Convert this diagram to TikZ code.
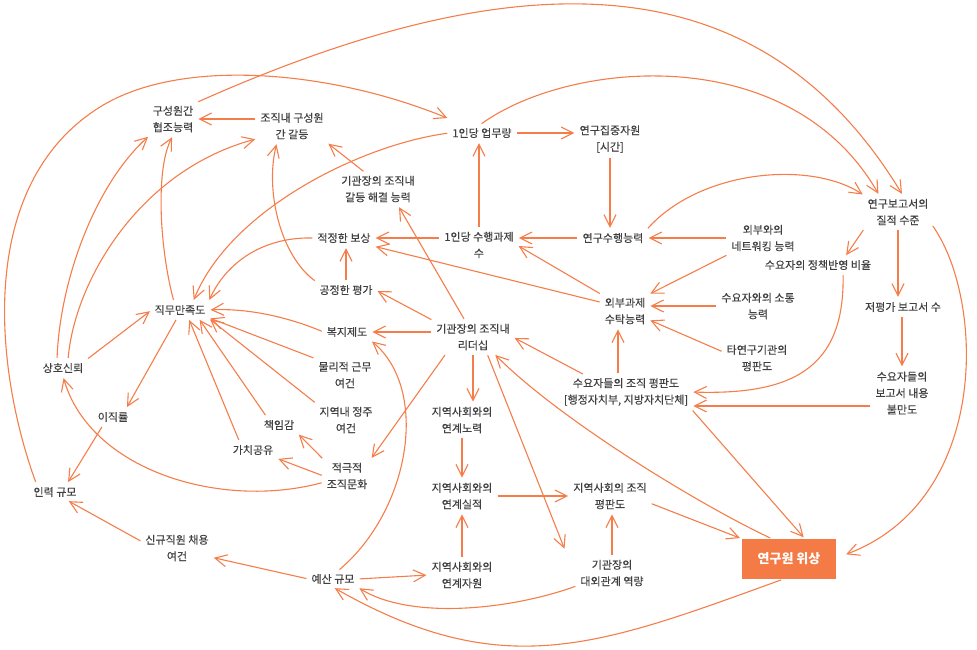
\documentclass[tikz,border=0pt]{standalone}
\usepackage{fontspec}
\newfontfamily\kr[FakeBold=0.3]{Noto Sans CJK KR}
\newfontfamily\krb{Noto Sans CJK KR}
\usetikzlibrary{arrows.meta,calc}
\definecolor{lineor}{HTML}{F47D4A}
\definecolor{boxor}{HTML}{F47B45}
\definecolor{txt}{HTML}{404040}
\begin{document}
\begin{tikzpicture}[x=1pt,y=-1pt,
  lbl/.style={font=\kr\fontsize{11}{16.5}\selectfont, text=txt, align=center, inner sep=3pt},
  arr/.style={draw=lineor, line width=1.1pt, -{Straight Barb[length=12pt,width=12pt,line width=1.1pt]}, shorten >=2pt, shorten <=2pt},
  hub/.style={fill=boxor, text=white, font=\krb\bfseries\fontsize{13}{16}\selectfont, minimum width=94pt, minimum height=40pt, inner sep=0pt}]
\useasboundingbox (0,0) rectangle (977,650);

\node[lbl] (hyupjo) at (173,119) {구성원간\\협조능력};
\node[lbl] (galdeung) at (292,126) {조직내 구성원\\간 갈등};
\node[lbl] (eopmu) at (482,133) {1인당 업무량};
\node[lbl] (jipjung) at (610,139) {연구집중자원\\{[시간]}};
\node[lbl] (haegyeol) at (378,189) {기관장의 조직내\\갈등 해결 능력};
\node[lbl] (jiljeok) at (898,212) {연구보고서의\\질적 수준};
\node[lbl] (bosang) at (344,238) {적정한 보상};
\node[lbl] (suhaeng) at (479,245) {1인당 수행과제\\수};
\node[lbl] (yeongu) at (613,238) {연구수행능력};
\node[lbl] (network) at (763,238) {외부와의\\네트워킹 능력};
\node[lbl] (jeongchaek) at (818,265) {수요자의 정책반영 비율};
\node[lbl] (gongjeong) at (346,290) {공정한 평가};
\node[lbl] (sutak) at (625,311) {외부과제\\수탁능력};
\node[lbl] (sotong) at (758,306) {수요자와의 소통\\능력};
\node[lbl] (jeopyeong) at (903,307) {저평가 보고서 수};
\node[lbl] (jikmu) at (180,310) {직무만족도};
\node[lbl] (bokji) at (347,332) {복지제도};
\node[lbl] (leader) at (473,337) {기관장의 조직내\\리더십};
\node[lbl] (mulli) at (345,375) {물리적 근무\\여건};
\node[lbl] (tayeongu) at (757,358) {타연구기관의\\평판도};
\node[lbl] (sangho) at (63,368) {상호신뢰};
\node[lbl] (suyo) at (626,392) {수요자들의 조직 평판도\\{[행정자치부, 지방자치단체]}};
\node[lbl] (bulman) at (902,393) {수요자들의\\보고서 내용\\불만도};
\node[lbl] (jeongju) at (346,420) {지역내 정주\\여건};
\node[lbl] (ijik) at (113,417) {이직률};
\node[lbl] (chaegim) at (279,425) {책임감};
\node[lbl] (noryeok) at (462,420) {지역사회와의\\연계노력};
\node[lbl] (gachi) at (253,450) {가치공유};
\node[lbl] (munhwa) at (347,476) {적극적\\조직문화};
\node[lbl] (inryeok) at (55,492) {인력 규모};
\node[lbl] (silijeok) at (462,496) {지역사회와의\\연계실적};
\node[lbl] (jiyeok) at (610,496) {지역사회의 조직\\평판도};
\node[hub] (wisang) at (789,559) {연구원 위상};
\node[lbl] (singyu) at (177,548) {신규직원 채용\\여건};
\node[lbl] (yesan) at (333,579) {예산 규모};
\node[lbl] (jawon) at (462,575) {지역사회와의\\연계자원};
\node[lbl] (daeoe) at (612,573) {기관장의\\대외관계 역량};

\coordinate (bw) at ([yshift=-13pt]bulman.west);
\coordinate (sn) at ([xshift=-8pt]suyo.north);

\draw[arr] (galdeung.west |- hyupjo.east) -- (hyupjo.east);
\draw[arr] (hyupjo.north east) .. controls (521,-42) and (760,-40) .. ([xshift=5pt]jiljeok.north);
\draw[arr] ([xshift=6pt]inryeok.north west) .. controls (-5,370) and (-25,185) .. (100,107) .. controls (180,57) and (330,70) .. ([yshift=6pt]eopmu.north west);
\draw[arr] (eopmu.east) -- (jipjung.west |- eopmu.east);
\draw[arr] (jipjung.south) -- (jipjung.south |- yeongu.north);
\draw[arr] (eopmu.west) .. controls (360,145) and (230,210) .. ([xshift=13pt]jikmu.north);
\draw[arr] (suhaeng.north) -- (suhaeng.north |- eopmu.south);
\draw[arr] ([xshift=-13pt]haegyeol.north) -- (galdeung.south east);
\draw[arr] (yeongu.west) -- (suhaeng.east |- yeongu.west);
\draw[arr] (yeongu.north east) .. controls (700,170) and (810,160) .. (jiljeok.north west);
\draw[arr] (network.west) -- (yeongu.east);
\draw[arr] (network.south west) -- (sutak.north east);
\draw[arr] (sotong.west) -- (sutak.east |- sotong.west);
\draw[arr] (tayeongu.170) -- (sutak.-20);
\draw[arr] (sn) -- (sn |- sutak.south);
\draw[arr] (sutak.north west) -- (suhaeng.east);
\draw[arr] (sutak.160) -- (bosang.south east);
\draw[arr] (suhaeng.west |- bosang.east) -- (bosang.east);
\draw[arr] (gongjeong.north) -- (gongjeong.north |- bosang.south);
\draw[arr] (bosang.west) .. controls (260,237) and (225,265) .. (jikmu.north east);
\draw[arr] (gongjeong.north west) .. controls (280,255) and (265,190) .. ([xshift=-15pt]galdeung.south);
\draw[arr] (bokji.west) .. controls (290,318) and (250,308) .. (jikmu.east);
\draw[arr] (mulli.north west) -- (jikmu.-15);
\draw[arr] (jeongju.north west) -- (jikmu.south east);
\draw[arr] ([xshift=6pt]chaegim.north west) -- ([xshift=-10pt]jikmu.south east);
\draw[arr] ([xshift=10pt]gachi.north west) -- ([xshift=-20pt]jikmu.south east);
\draw[arr] (sangho.north east) -- (jikmu.west);
\draw[arr] ([xshift=-3pt]jikmu.south) -- ([xshift=13pt]ijik.north);
\draw[arr] ([xshift=-6pt]jikmu.north) .. controls (160,250) and (155,170) .. (hyupjo.south);
\draw[arr] ([xshift=-6pt]sangho.north) .. controls (60,280) and (95,185) .. (hyupjo.south west);
\draw[arr] ([xshift=5pt]sangho.north) .. controls (75,280) and (140,170) .. (galdeung.200);
\draw[arr] ([xshift=-8pt]leader.north) -- ([xshift=20pt]haegyeol.south);
\draw[arr] (leader.north west) -- (gongjeong.east);
\draw[arr] (leader.west |- bokji.east) -- (bokji.east);
\draw[arr] ([xshift=13pt]leader.south west) -- (munhwa.north east);
\draw[arr] (leader.south) -- (leader.south |- noryeok.north);
\draw[arr] ([xshift=14pt]leader.south) -- ([xshift=-12pt,yshift=6pt]daeoe.north west);
\draw[arr] ([xshift=-17pt]wisang.north) .. controls (700,505) and (560,420) .. ([xshift=-19pt]leader.south east);
\draw[arr] ([xshift=24pt]suyo.north west) -- (leader.east);
\draw[arr] ([xshift=5pt]yesan.north) .. controls (410,510) and (430,390) .. (bokji.south east);
\draw[arr] (munhwa.north west) -- (chaegim.south east);
\draw[arr] (munhwa.west) -- (gachi.south east);
\draw[arr] (munhwa.195) .. controls (220,510) and (90,470) .. (sangho.south);
\draw[arr] ([xshift=-10pt]ijik.south) -- ([xshift=12pt]inryeok.north);
\draw[arr] (singyu.170) -- ([xshift=12pt]inryeok.south);
\draw[arr] (yesan.west) -- (singyu.-15);
\draw[arr] (yesan.east) -- (jawon.west);
\draw[arr] (jawon.north) -- (silijeok.south);
\draw[arr] (noryeok.south) -- (silijeok.north);
\draw[arr] (silijeok.east) -- (jiyeok.west);
\draw[arr] (daeoe.north) -- (daeoe.north |- jiyeok.south);
\draw[arr] (daeoe.200) .. controls (510,610) and (410,620) .. (yesan.south east);
\draw[arr] ([xshift=-6pt]wisang.south) .. controls (599,646) and (503,684) .. (yesan.south);
\draw[arr] (jiyeok.-10) -- (wisang.north west);
\draw[arr] (suyo.south east) -- ([xshift=16pt]wisang.north);
\draw[arr] (jiljeok.-20) .. controls (985,300) and (990,500) .. ([xshift=8pt,yshift=4pt]wisang.east);
\draw[arr] (jiljeok.south west) -- ([xshift=27pt]jeongchaek.north);
\draw[arr] (jiljeok.south) -- (jiljeok.south |- jeopyeong.north);
\draw[arr] (bulman.north |- jeopyeong.south) -- (bulman.north);
\draw[arr] ([xshift=25pt]jeongchaek.south) .. controls (845,370) and (790,395) .. (suyo.east);
\draw[arr] (bw) -- (bw -| suyo.east);
\draw[arr] ([xshift=-2pt]eopmu.north) .. controls (570,60) and (790,40) .. ([xshift=15pt]jiljeok.north west);
\end{tikzpicture}
\end{document}
